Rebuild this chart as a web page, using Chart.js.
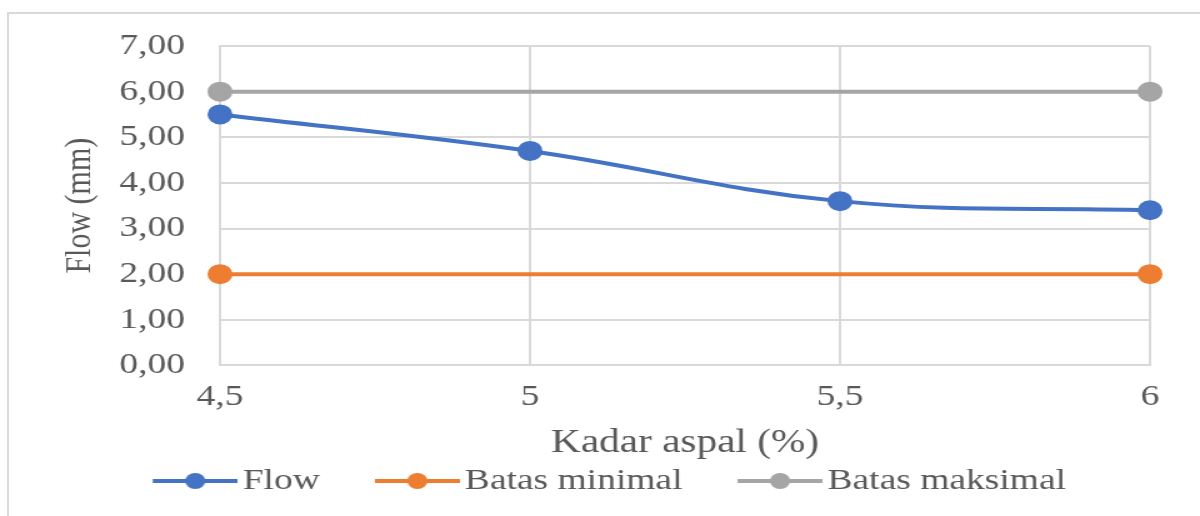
<!DOCTYPE html>
<html>
<head>
<meta charset="utf-8">
<script src="https://cdn.jsdelivr.net/npm/chart.js@4.4.1/dist/chart.umd.min.js"></script>
<style>
	body { margin: 0; background: #fff; }
	#frame {
		position: absolute; left: 7px; top: 12px; width: 1193px; height: 504px;
		border-top: 2px solid #d9d9d9; border-left: 2px solid #d9d9d9;
	}
	#wrap {
		position: absolute; left: 0; top: 0; width: 960px; height: 516px;
		transform: scaleX(1.25); transform-origin: 0 0;
	}
</style>
</head>
<body>
<div id="frame"></div>
<div id="wrap"><canvas id="flowChart"></canvas></div>
<script>
// data
const kadarAspal = ["4,5", "5", "5,5", "6"];
const flowValues = [5.5, 4.7, 3.6, 3.4];
const batasMinimal = [2, 2, 2, 2];
const batasMaksimal = [6, 6, 6, 6];

const textColor = "#595959";
const gridColor = "#d9d9d9";
const serif = "'Liberation Serif', 'Times New Roman', serif";

// line + dot picture for the legend entries (line sits on the right side)
function legendIcon(color) {
	const c = document.createElement("canvas");
	c.width = 113;
	c.height = 20;
	const g = c.getContext("2d");
	g.strokeStyle = color;
	g.lineWidth = 4;
	g.beginPath();
	g.moveTo(45, 10);
	g.lineTo(113, 10);
	g.stroke();
	g.fillStyle = color;
	g.beginPath();
	g.arc(79, 10, 8, 0, Math.PI * 2);
	g.fill();
	return c;
}

const colors = ["#4472c4", "#ed7d31", "#a5a5a5"];
const icons = colors.map(legendIcon);
// the limit lines only show a marker at both ends
const endMarkers = [8, 0, 0, 8];

const ctx = document.getElementById("flowChart").getContext("2d");
const myChart = new Chart(ctx, {
	type: "line",
	data: {
		labels: kadarAspal,
		datasets: [
			{
				label: "Flow",
				data: flowValues,
				borderColor: colors[0],
				backgroundColor: colors[0],
				borderWidth: 4,
				pointRadius: 8,
				tension: 0.4,
			},
			{
				label: "Batas minimal",
				data: batasMinimal,
				borderColor: colors[1],
				backgroundColor: colors[1],
				borderWidth: 4,
				pointRadius: endMarkers,
			},
			{
				label: "Batas maksimal",
				data: batasMaksimal,
				borderColor: colors[2],
				backgroundColor: colors[2],
				borderWidth: 4,
				pointRadius: endMarkers,
			},
		],
	},
	options: {
		responsive: true,
		maintainAspectRatio: false,
		animation: false,
		layout: { padding: { top: 40, left: 21, right: 40, bottom: 10 } },
		plugins: {
			tooltip: { enabled: false },
			legend: {
				position: "bottom",
				labels: {
					color: textColor,
					font: { family: serif, size: 30 },
					usePointStyle: true,
					pointStyleWidth: 91,
					padding: 10,
					generateLabels: (chart) => {
						const items = Chart.defaults.plugins.legend.labels.generateLabels(chart);
						items.forEach((it, i) => {
							it.pointStyle = icons[i];
						});
						return items;
					},
				},
			},
		},
		scales: {
			x: {
				offset: false,
				grid: { color: gridColor, lineWidth: 2, drawTicks: false },
				border: { color: gridColor, width: 2 },
				ticks: { color: textColor, font: { family: serif, size: 30 }, padding: 14 },
				title: {
					display: true,
					text: "Kadar aspal (%)",
					color: textColor,
					font: { family: serif, size: 33 },
					padding: { top: -6, bottom: -7 },
				},
			},
			y: {
				min: 0,
				max: 7,
				grid: { color: gridColor, lineWidth: 2, drawTicks: false },
				border: { color: gridColor, width: 2 },
				ticks: {
					stepSize: 1,
					color: textColor,
					font: { family: serif, size: 30 },
					padding: 28,
					callback: (v) => v.toFixed(2).replace(".", ","),
				},
				title: {
					display: true,
					text: "Flow (mm)",
					color: textColor,
					font: { family: serif, size: 30 },
					padding: { top: 25, bottom: -14.5 },
				},
			},
		},
	},
});
</script>
</body>
</html>
